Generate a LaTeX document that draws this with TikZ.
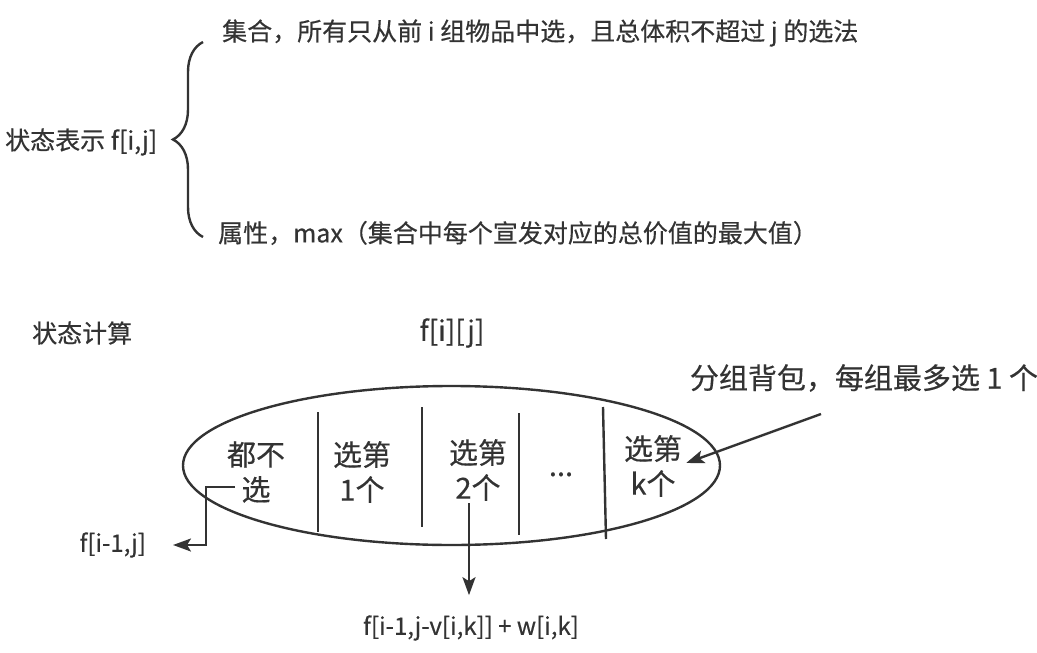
\documentclass[tikz,border=0pt]{standalone}
\usepackage{fontspec}
\setmainfont{Noto Sans CJK SC}[FakeBold=0.4]
\usetikzlibrary{arrows.meta,shapes.geometric,decorations.pathreplacing}
\definecolor{ink}{HTML}{333333}
\begin{document}
\begin{tikzpicture}[x=1pt, y=-1pt, line width=2.4pt, color=ink, >={Stealth[length=18pt,width=13pt,inset=4pt]},
main node/.style={inner sep=0pt,align=center,font=\fontsize{25}{35}\selectfont},
cell node/.style={font=\fontsize{29}{35}\selectfont},
small node/.style={inner sep=0pt,font=\fontsize{24}{28}\selectfont},
big node/.style={inner sep=0pt,font=\fontsize{29}{34}\selectfont},
bracket/.style={decorate,decoration={brace,amplitude=30pt}}]%
\useasboundingbox (0,0) rectangle (1037,653);
\begin{scope}[every node/.style={main node}]
\node[anchor=west] (state) at (4,142) {状态表示 f[i,j]};
\node[anchor=west] (setdef) at (221,33) {集合，所有只从前 i 组物品中选，且总体积不超过 j 的选法};
\node[anchor=west] (attr) at (217,233) {属性，max（集合中每个宣发对应的总价值的最大值）};
\node[anchor=west] (calc) at (31,333) {状态计算};
\node[cell node] (cell0) at (256,472) {都不\\选};
\node[cell node] (cell1) at (362,472) {选第\\1个};
\node[cell node] (cell2) at (478,470) {选第\\2个};
\node[cell node,anchor=base] (dots) at (561,476) {...};
\node[cell node] (cellk) at (653,466) {选第\\k个};
\end{scope}
\node[inner sep=0pt,font=\fontsize{28}{32}\selectfont] (fij) at (452,333) {f[i][j]};
\node[big node] (note) at (864,378) {分组背包，每组最多选 1 个};
\node[small node,anchor=east] (fprev) at (147,545) {f[i-1,j]};
\node[small node] (fpick) at (471,628) {f[i-1,j-v[i,k]] + w[i,k]};
\node[draw,ellipse,minimum width=537,minimum height=159,inner sep=0pt] (group) at (451.5,465.5) {};
\foreach \xa/\ya/\xb/\yb in {318/412/318/532,422/407/422/527,519/413/519/535,603/407/606/539}
  \draw (\xa,\ya) -- (\xb,\yb);
\draw[bracket] (203,237) -- (203,42);
\coordinate (skip) at (235,487);
\coordinate (take) at (469,503);
\coordinate (pointer) at (821,414);
\draw[->] (skip) -- ++(-29,0) |- ([xshift=26pt]fprev.east);
\draw[->,shorten >=19pt] (take) -- (take |- fpick.north);
\draw[->] (pointer) -- ([xshift=3pt,yshift=3pt]cellk.east);
\end{tikzpicture}
\end{document}
